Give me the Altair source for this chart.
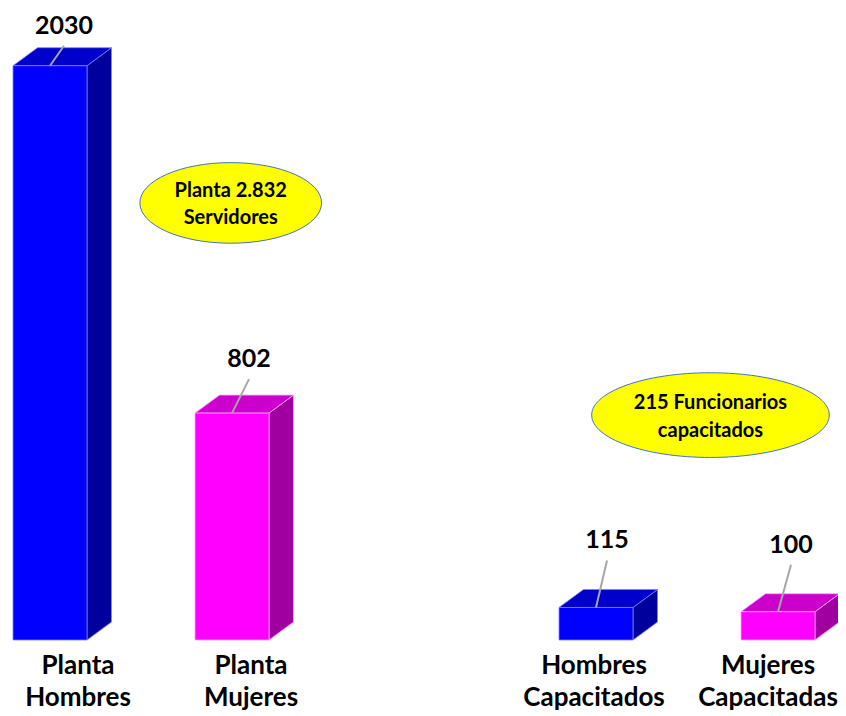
import altair as alt
import pandas as pd

# ---------------- data ----------------
categories = ["Planta Hombres", "Planta Mujeres", "Hombres Capacitados", "Mujeres Capacitadas"]
category_labels = ["Planta\nHombres", "Planta\nMujeres", "Hombres\nCapacitados", "Mujeres\nCapacitadas"]
values = [2030, 802, 115, 100]
series = ["Hombres", "Mujeres", "Hombres", "Mujeres"]
groups = ["Planta", "Planta", "Capacitados", "Capacitados"]

annotation_texts = ["Planta 2.832\nServidores", "215 Funcionarios\ncapacitados"]
annotation_slot = [0.993, 3.629]        # anchor along the category axis
annotation_value = [1545, 795]          # anchor along the value axis

# ---------------- layout / style ----------------
W, H = 830, 632
SLOT_PX = 182.0
PX_PER_UNIT = 0.2829
X_DOMAIN = [-42 / SLOT_PX, -42 / SLOT_PX + W / SLOT_PX]
Y_DOMAIN = [0, H / PX_PER_UNIT]
HALF_W = 37 / SLOT_PX
DEPTH_X = 24.5 / SLOT_PX
DEPTH_Y = 18 / PX_PER_UNIT
GROUP_GAP = 1

LEADER_DX_PX = [14, 17, 11, 13]
LEADER_DY_PX = [20, 34, 47, 47]
LABEL_SHIFT_PX = [28, 19, -2, -10]

COLORS = {
    "Hombres": {"front": "#0000FF", "top": "#0000CD", "side": "#00009C", "edge": "#7F7FFF"},
    "Mujeres": {"front": "#FF00FF", "top": "#CC00CC", "side": "#A000A0", "edge": "#FF9FFF"},
}
FONT = "Lato"

# ---------------- tables ----------------
front, side, top, lead, cats = [], [], [], [], []
for i, (cat, lab, v, s, g) in enumerate(zip(categories, category_labels, values, series, groups)):
    slot = i + (GROUP_GAP if g == "Capacitados" else 0)
    c = COLORS[s]
    front.append(dict(id=cat, x0=slot - HALF_W, x1=slot + HALF_W, y0=0, y1=v,
                      fill=c["front"], edge=c["edge"]))
    side.append(dict(id=cat, x=slot + HALF_W, ytop=v, ybot=0, fill=c["side"], edge=c["edge"]))
    side.append(dict(id=cat, x=slot + HALF_W + DEPTH_X, ytop=v + DEPTH_Y, ybot=DEPTH_Y,
                     fill=c["side"], edge=c["edge"]))
    top.append(dict(id=cat, y=v, xl=slot - HALF_W, xr=slot + HALF_W, fill=c["top"], edge=c["edge"]))
    top.append(dict(id=cat, y=v + DEPTH_Y, xl=slot - HALF_W + DEPTH_X, xr=slot + HALF_W + DEPTH_X,
                    fill=c["top"], edge=c["edge"]))
    lead.append(dict(id=cat, x=slot, y=v,
                     x2=slot + LEADER_DX_PX[i] / SLOT_PX,
                     y2=v + LEADER_DY_PX[i] / PX_PER_UNIT,
                     label=str(v)))
    cats.append(dict(id=cat, x=slot + LABEL_SHIFT_PX[i] / SLOT_PX, y=0, label=lab))

front_df = pd.DataFrame(front)
side_df = pd.DataFrame(side)
top_df = pd.DataFrame(top)
lead_df = pd.DataFrame(lead)
cat_df = pd.DataFrame(cats)
ann_df = pd.DataFrame(dict(text=annotation_texts, x=annotation_slot, y=annotation_value))

xs = alt.Scale(domain=X_DOMAIN, nice=False, zero=False)
ys = alt.Scale(domain=Y_DOMAIN, nice=False, zero=False)


def X(f):
    return alt.X(f, type="quantitative", scale=xs, axis=None)


def Y(f):
    return alt.Y(f, type="quantitative", scale=ys, axis=None)


side_layer = alt.Chart(side_df).mark_area(strokeWidth=0.8, opacity=1).encode(
    x=X("x"), y=Y("ytop"), y2="ybot", detail="id:N",
    color=alt.Color("fill:N", scale=None), stroke=alt.Stroke("edge:N", scale=None),
)

top_layer = alt.Chart(top_df).mark_area(orient="horizontal", strokeWidth=0.8, opacity=1).encode(
    y=Y("y"), x=X("xl"), x2="xr", detail="id:N",
    color=alt.Color("fill:N", scale=None), stroke=alt.Stroke("edge:N", scale=None),
)

front_layer = alt.Chart(front_df).mark_rect(strokeWidth=0.8).encode(
    x=X("x0"), x2="x1", y=Y("y1"), y2="y0",
    color=alt.Color("fill:N", scale=None), stroke=alt.Stroke("edge:N", scale=None),
)

leader_layer = alt.Chart(lead_df).mark_rule(color="#A6A6A6", strokeWidth=2).encode(
    x=X("x"), y=Y("y"), x2="x2", y2="y2",
)

value_layer = alt.Chart(lead_df).mark_text(
    font=FONT, fontWeight="bold", fontSize=25, color="#000000",
    align="center", baseline="alphabetic", dy=-12,
).encode(x=X("x2"), y=Y("y2"), text="label:N")

cat_layer = alt.Chart(cat_df).mark_text(
    font=FONT, fontWeight="bold", fontSize=26, color="#000000",
    align="center", baseline="alphabetic", dy=34, lineBreak="\n", lineHeight=32.4,
).encode(x=X("x"), y=Y("y"), text="label:N")

ELL1 = "M -1 0 A 1 0.4436 0 1 1 1 0 A 1 0.4436 0 1 1 -1 0 Z"
ELL2 = "M -1 0 A 1 0.3565 0 1 1 1 0 A 1 0.3565 0 1 1 -1 0 Z"

ell1 = alt.Chart(ann_df.iloc[[0]]).mark_point(
    shape=ELL1, size=181.7 ** 2, filled=True, fill="#FFFF00", fillOpacity=1,
    stroke="#4472C4", strokeWidth=1, opacity=1,
).encode(x=X("x"), y=Y("y"))
ell2 = alt.Chart(ann_df.iloc[[1]]).mark_point(
    shape=ELL2, size=237.6 ** 2, filled=True, fill="#FFFF00", fillOpacity=1,
    stroke="#4472C4", strokeWidth=1, opacity=1,
).encode(x=X("x"), y=Y("y"))

ann_text = alt.Chart(ann_df).mark_text(
    font=FONT, fontWeight="bold", fontSize=20, color="#000000",
    align="center", baseline="middle", lineBreak="\n", lineHeight=27.5, dy=-12,
).encode(x=X("x"), y=Y("y"), text="text:N")

chart = alt.layer(
    side_layer, top_layer, front_layer, leader_layer, value_layer, cat_layer,
    ell1, ell2, ann_text,
).properties(
    width=W, height=H,
    autosize=alt.AutoSizeParams(type="none"),
    padding={"left": 0, "top": 0, "right": 0, "bottom": 76},
).configure(
    background="#FFFFFF",
    view=alt.ViewConfig(stroke=None),
)

chart.save("out.html", embed_options={"renderer": "svg", "actions": False})
